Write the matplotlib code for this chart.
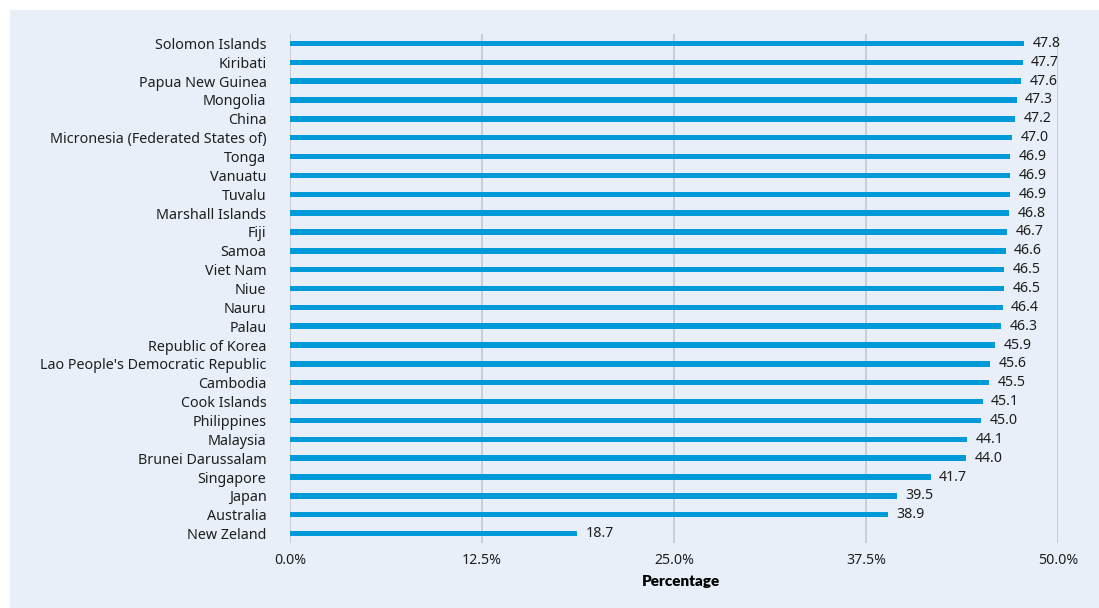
import matplotlib.pyplot as plt
from matplotlib.patches import Rectangle

# datos (de arriba hacia abajo)
countries = ['Solomon Islands', 'Kiribati', 'Papua New Guinea', 'Mongolia', 'China',
             'Micronesia (Federated States of)', 'Tonga', 'Vanuatu', 'Tuvalu',
             'Marshall Islands', 'Fiji', 'Samoa', 'Viet Nam', 'Niue', 'Nauru', 'Palau',
             'Republic of Korea', "Lao People's Democratic Republic", 'Cambodia',
             'Cook Islands', 'Philippines', 'Malaysia', 'Brunei Darussalam', 'Singapore',
             'Japan', 'Australia', 'New Zeland']
values = [47.8, 47.7, 47.6, 47.3, 47.2, 47.0, 46.9, 46.9, 46.9, 46.8, 46.7, 46.6, 46.5,
          46.5, 46.4, 46.3, 45.9, 45.6, 45.5, 45.1, 45.0, 44.1, 44.0, 41.7, 39.5, 38.9, 18.7]
x_ticks = [0, 12.5, 25, 37.5, 50]
x_ticklabels = ['0.0%', '12.5%', '25.0%', '37.5%', '50.0%']

bg = '#e8eff8'
bar_col = '#009ad9'
grid_col = '#c4c6d2'
txt_col = '#1e1e1e'

plt.rcParams['font.family'] = ['Noto Sans', 'DejaVu Sans']

fig = plt.figure(figsize=(10.99, 6.08), dpi=100)
fig.patch.set_facecolor('white')
panel = Rectangle((10/1099, 0), 1 - 10/1099, 1 - 10/608,
                  transform=fig.transFigure, facecolor=bg,
                  edgecolor='none', zorder=-10)
fig.add_artist(panel)

ax = fig.add_axes([290/1099, 1 - 543/608, (1058 - 290)/1099, (543 - 34)/608])
ax.set_facecolor('none')
ax.set_zorder(1)

ypos = list(range(len(countries)))
ax.barh(ypos, values, height=0.29, color=bar_col, zorder=3)
for y, v in zip(ypos, values):
    ax.text(v + 0.55, y, '%.1f' % v, va='center', ha='left', fontsize=10.2,
            color=txt_col, zorder=4)

ax.set_ylim(26.5, -0.5)
ax.set_xlim(0, 50)
ax.set_yticks(ypos)
ax.set_yticklabels(countries, fontsize=10.3, color=txt_col)
ax.set_xticks(x_ticks)
ax.set_xticklabels(x_ticklabels, fontsize=10.2, color=txt_col)
ax.tick_params(axis='both', length=0)
ax.tick_params(axis='y', pad=17)
ax.tick_params(axis='x', pad=7)
ax.grid(axis='x', color=grid_col, linewidth=1.2, zorder=1)
ax.set_axisbelow(True)
for s in ax.spines.values():
    s.set_visible(False)
ax.set_xlabel('Percentage', fontsize=11, fontweight='heavy', labelpad=5,
              family=['Lato', 'DejaVu Sans'], color='black')
ax.xaxis.label.set_x(0.509)

plt.savefig('out.png', dpi=100, facecolor=fig.get_facecolor())
